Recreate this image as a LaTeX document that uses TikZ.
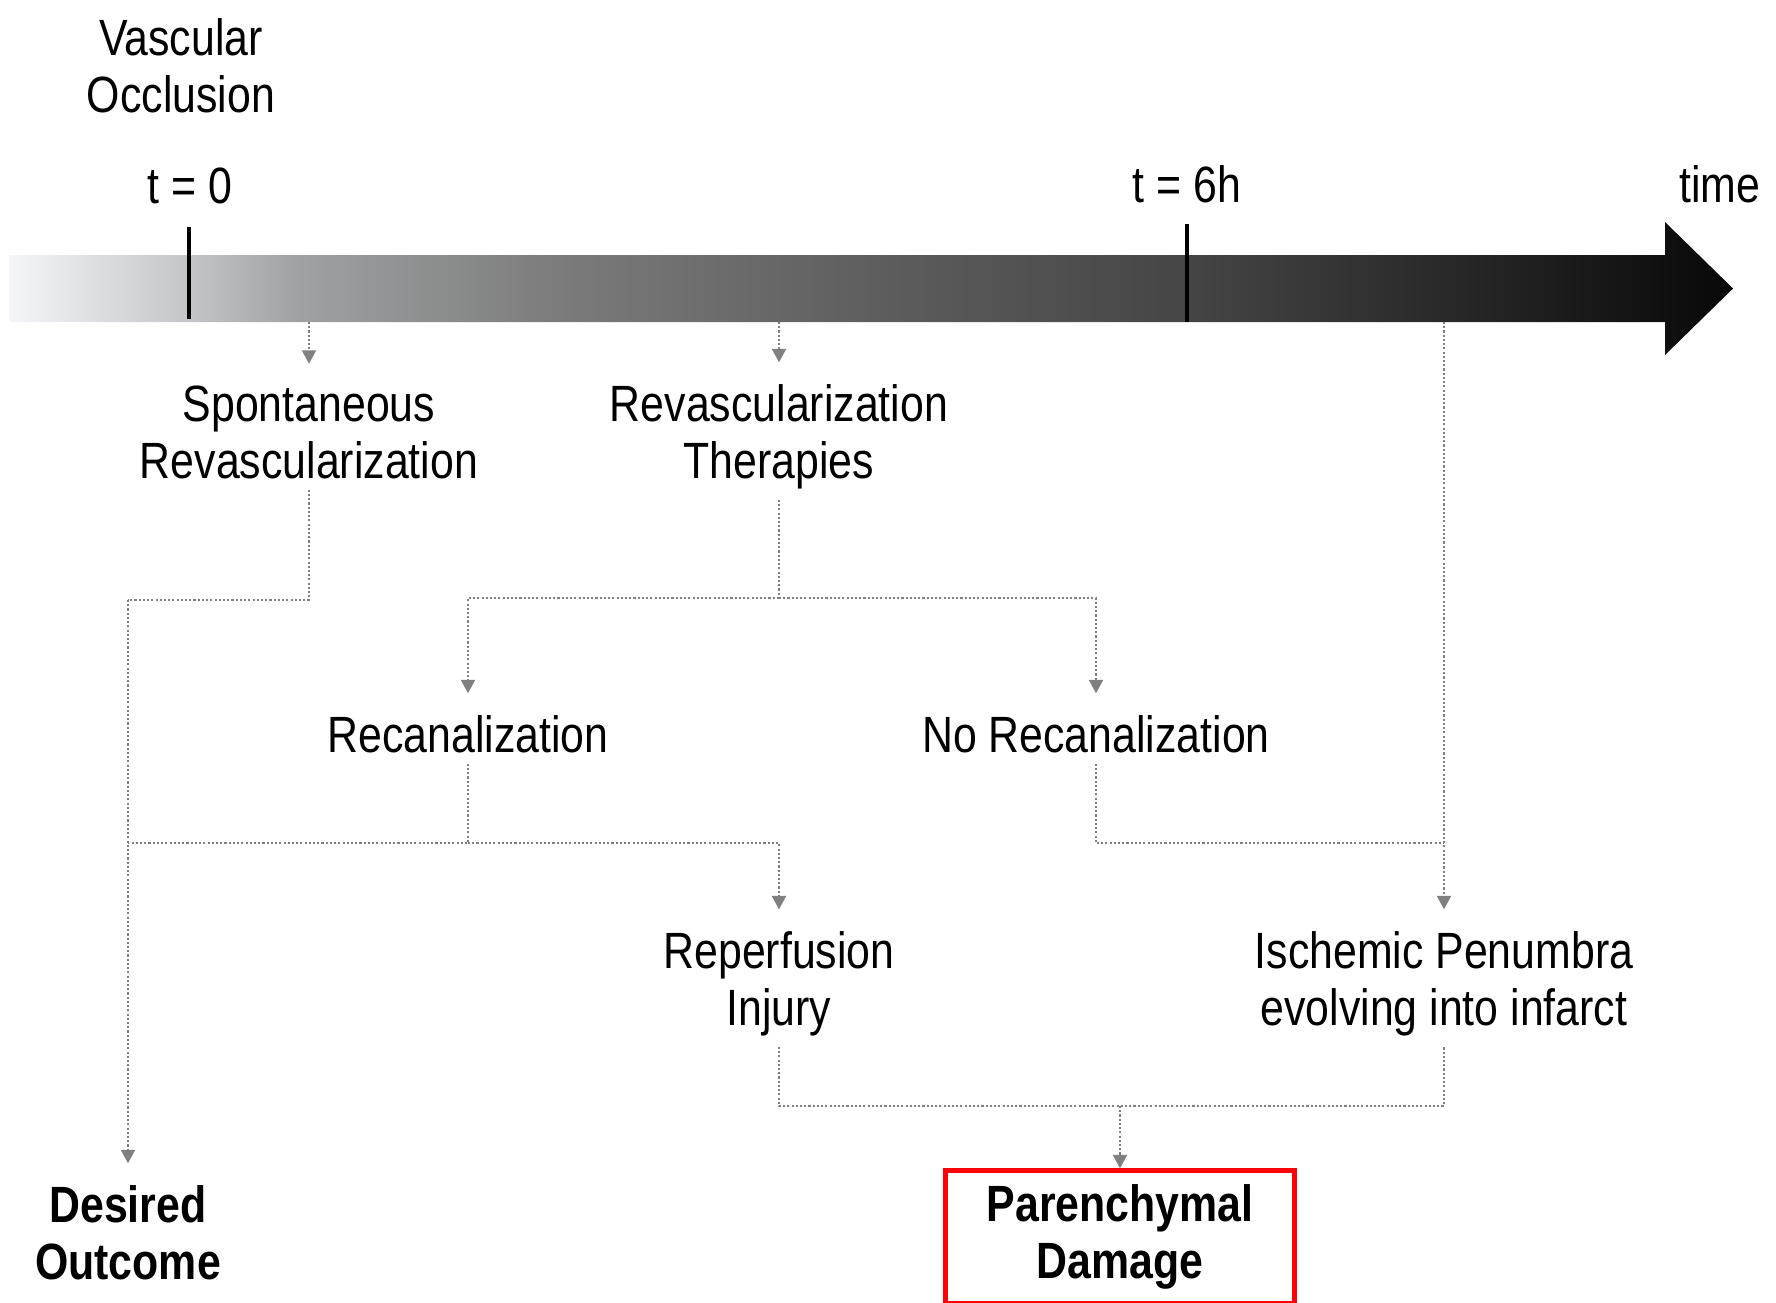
\documentclass[tikz,border=0pt]{standalone}
\usepackage{fontspec}
\setmainfont{Liberation Sans}[FakeStretch=0.84]
\usepackage{tikz}
\usetikzlibrary{arrows.meta}

\definecolor{barA}{HTML}{F4F6FA}
\definecolor{barB}{HTML}{C3C5C8}
\definecolor{barC}{HTML}{9FA1A2}
\definecolor{barD}{HTML}{7A7A7A}
\definecolor{barE}{HTML}{5B5B5B}
\definecolor{barF}{HTML}{444544}
\definecolor{barG}{HTML}{262626}
\definecolor{barH}{HTML}{080808}
\pgfdeclarehorizontalshading{timebar}{100bp}{color(0bp)=(barA); color(25bp)=(barA);
  color(30.2bp)=(barB); color(33.4bp)=(barC); color(41.2bp)=(barD); color(51bp)=(barE);
  color(59.2bp)=(barF); color(67.4bp)=(barG); color(75bp)=(barH); color(100bp)=(barH)}

\begin{document}
\begin{tikzpicture}[x=0.01cm,y=-0.01cm,
  txt/.style={align=center,inner xsep=0pt,inner ysep=3pt,font=\fontsize{14.5}{16.2}\selectfont},
  outcome/.style={txt,font=\fontsize{14.5}{16.2}\selectfont\bfseries},
  link/.style={gray,line width=0.5pt,dash pattern=on 0.6pt off 0.6pt},
  flow/.style={link,-{Triangle[width=4pt,length=3.8pt]},shorten >=3pt},
  tick/.style={line width=1.3pt}]
  \useasboundingbox (0,0) rectangle (1776,1302);

  \shade[shading=timebar] (9,255) -- (1665,255) -- (1665,222) -- (1733,288.5)
    -- (1665,355) -- (1665,322) -- (9,322) -- cycle;
  \draw[tick] (189,227) -- (189,319);
  \draw[tick] (1187,224) -- (1187,322);
  \coordinate (b1) at (309,322);
  \coordinate (b2) at (779,322);
  \coordinate (b3) at (1444,322);

  \node[txt,anchor=base] (occl) at (181,112) {Vascular\\Occlusion};
  \node[txt,anchor=base] (tzero) at (190,203) {t = 0};
  \node[txt,anchor=base] (tsix) at (1187,202) {t = 6h};
  \node[txt,anchor=base] (tlabel) at (1720,202) {time};
  \node[txt,anchor=base] (spont) at (309,478) {Spontaneous\\Revascularization};
  \node[txt,anchor=base] (therap) at (779,478) {Revascularization\\Therapies};
  \node[txt,anchor=base] (recan) at (468,752) {Recanalization};
  \node[txt,anchor=base] (norecan) at (1096,752) {No Recanalization};
  \node[txt,anchor=base] (reperf) at (779,1025) {Reperfusion\\Injury};
  \node[txt,anchor=base] (penumbra) at (1444,1025) {Ischemic Penumbra\\evolving into infarct};
  \node[outcome,anchor=base] (desired) at (128,1279) {Desired\\Outcome};
  \node[outcome,draw=red,line width=1.3pt,minimum width=99.3pt,minimum height=37.8pt]
    (damage) at (1120,1237) {Parenchymal\\Damage};

  \draw[flow] (b1) -- (spont.north);
  \draw[flow] (b2) -- (therap.north);
  \coordinate (jA) at (128,600);
  \draw[link] (spont.south) |- (jA);
  \draw[flow] (jA) -- (desired.north);
  \coordinate (jB) at (779,598);
  \draw[link] (therap.south) -- (jB);
  \draw[flow] (jB) -| (recan.north);
  \draw[flow] (jB) -| (norecan.north);
  \coordinate (jC) at (468,843);
  \draw[link] (recan.south) -- (jC) -- (jC -| jA);
  \draw[flow] (jC) -| (reperf.north);
  \draw[link] (norecan.south) |- (jC -| b3);
  \draw[flow] (b3) -- (penumbra.north);
  \coordinate (jE) at (1120,1106);
  \draw[link] (reperf.south) |- (jE) -| (penumbra.south);
  \draw[flow,shorten >=0pt] (jE) -- (damage.north);
\end{tikzpicture}
\end{document}
